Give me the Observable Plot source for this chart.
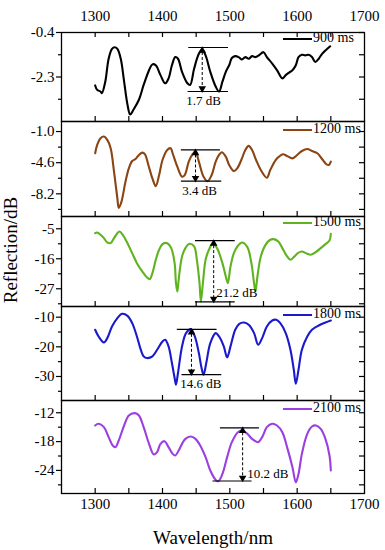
<!DOCTYPE html>
<html><head><meta charset="utf-8">
<script src="https://cdn.jsdelivr.net/npm/d3@7"></script>
<script src="https://cdn.jsdelivr.net/npm/@observablehq/plot@0.6"></script>
<style>
body{margin:0;background:#fff;}
#chart{position:relative;width:385px;height:550px;font-family:'Liberation Serif','Tinos','Times New Roman','DejaVu Serif',serif;color:#000;}
#chart svg{display:block;overflow:visible;}
.leg{position:absolute;font-size:14px;line-height:14px;white-space:nowrap;}
.legline{position:absolute;height:2px;}
.title{position:absolute;font-size:19px;line-height:19px;white-space:nowrap;}
</style></head><body><div id="chart"></div>
<script>
// ---------- data ----------
const seriesNames = ["900 ms","1200 ms","1500 ms","1800 ms","2100 ms"];
const seriesColors = ["#000000","#8b4513","#5fb31f","#1a1acc","#9b3fe0"];

const wl900 = [1300,1303,1308,1310,1315,1320,1325,1329,1333,1338,1343,1348,1352,1357,1365,1372,1380,1385,1390,1397,1404,1409,1414,1419,1423,1429,1437,1441,1447,1454,1459,1464,1471,1479,1484,1489,1494,1499,1503,1508,1513,1518,1523,1528,1533,1538,1543,1550,1555,1563,1570,1578,1583,1588,1593,1598,1602,1607,1612,1617,1622,1627,1632,1637,1642,1649];
const db900 = [-2.66,-2.85,-2.92,-2.99,-2.50,-1.52,-1.10,-1.03,-1.10,-1.52,-2.50,-3.48,-3.90,-3.69,-3.27,-2.64,-2.01,-1.76,-1.80,-2.22,-2.57,-2.36,-1.80,-1.45,-1.52,-2.08,-2.57,-2.64,-1.94,-1.31,-1.13,-1.38,-2.08,-2.71,-2.92,-2.50,-2.08,-1.80,-1.49,-1.41,-1.45,-1.55,-1.45,-1.52,-1.41,-1.45,-1.38,-1.24,-1.45,-1.73,-2.01,-2.36,-2.22,-2.11,-2.01,-1.80,-1.45,-1.35,-1.38,-1.35,-1.45,-1.66,-1.52,-1.31,-1.17,-0.99];

const wl1200 = [1300,1303,1308,1313,1318,1323,1328,1333,1335,1339,1345,1350,1355,1360,1365,1370,1374,1379,1385,1390,1395,1400,1407,1412,1415,1422,1429,1433,1439,1444,1449,1454,1461,1467,1473,1479,1484,1488,1494,1499,1506,1511,1518,1523,1528,1533,1539,1546,1555,1560,1568,1573,1579,1585,1593,1600,1607,1615,1622,1630,1637,1643,1647,1650];
const db1200 = [-3.51,-2.55,-1.77,-1.58,-1.97,-2.93,-5.64,-8.74,-9.82,-9.13,-6.80,-5.26,-4.41,-4.17,-3.71,-3.44,-3.63,-4.87,-6.42,-7.31,-6.03,-4.29,-3.13,-2.93,-3.51,-5.06,-6.22,-6.03,-4.48,-3.71,-3.32,-4.48,-6.22,-6.73,-6.03,-4.48,-3.71,-3.40,-3.90,-4.87,-5.57,-5.26,-4.10,-3.13,-2.66,-3.13,-4.29,-5.45,-6.34,-5.45,-4.29,-3.90,-3.63,-3.82,-4.10,-3.71,-3.25,-3.01,-3.25,-3.51,-4.17,-4.75,-4.87,-4.48];

const wl1500 = [1300,1303,1308,1313,1318,1323,1328,1333,1336,1341,1348,1355,1362,1370,1377,1381,1385,1390,1395,1400,1407,1413,1418,1420,1422,1424,1429,1434,1440,1447,1451,1455,1457,1460,1464,1469,1475,1481,1489,1494,1497,1501,1506,1512,1518,1526,1532,1536,1538,1541,1546,1553,1560,1565,1572,1578,1585,1590,1595,1601,1607,1613,1620,1627,1635,1642,1648,1650];
const db1500 = [-6.6,-6.36,-7.21,-8.43,-10.02,-10.27,-8.43,-6.6,-5.99,-7.21,-10.27,-13.93,-17.6,-20.65,-22.85,-23.46,-21.26,-16.38,-12.71,-10.63,-10.27,-12.1,-17.6,-24.93,-27.98,-23.71,-15.15,-12.1,-10.51,-11.49,-16.38,-24.93,-31.65,-24.93,-16.38,-12.71,-10.27,-12.1,-17.6,-22.49,-24.93,-18.82,-13.93,-11.24,-10.02,-11.73,-17.6,-24.93,-27.98,-22.49,-15.15,-10.88,-9.04,-8.8,-9.66,-12.1,-15.15,-16.38,-15.4,-13.93,-13.32,-13.93,-14.54,-13.69,-12.1,-10.63,-9.29,-6.84];

const wl1800 = [1300,1305,1313,1318,1325,1333,1340,1348,1355,1362,1367,1372,1377,1385,1392,1400,1404,1409,1414,1418,1420,1423,1429,1435,1442,1448,1454,1458,1461,1465,1471,1479,1484,1491,1496,1501,1508,1514,1521,1528,1536,1542,1548,1555,1563,1569,1575,1583,1590,1595,1598,1602,1607,1615,1622,1632,1642,1650];
const db1800 = [-14.25,-16.5,-18.52,-17.06,-13.13,-10.33,-8.87,-9.54,-12.01,-16.5,-20.43,-23.23,-23.79,-23.23,-20.99,-18.18,-17.62,-19.86,-25.47,-30.52,-32.77,-28.84,-19.86,-15.38,-14.03,-16.5,-22.11,-27.16,-29.4,-25.47,-18.74,-15.38,-16.5,-19.86,-23.57,-19.86,-14.25,-12.23,-11.79,-12.57,-15.38,-19.3,-17.06,-13.13,-11.11,-10.89,-12.01,-15.38,-20.99,-27.72,-32.43,-27.72,-20.99,-16.5,-14.25,-12.8,-11.79,-11.11];

const wl2100 = [1300,1305,1313,1320,1326,1330,1335,1343,1350,1359,1365,1372,1380,1387,1392,1397,1403,1409,1415,1419,1424,1429,1434,1442,1449,1456,1464,1471,1479,1483,1489,1496,1503,1512,1518,1526,1533,1542,1548,1555,1563,1570,1578,1585,1593,1598,1602,1607,1615,1622,1628,1635,1642,1648,1650];
const db2100 = [-14.65,-14.3,-15.0,-17.08,-18.81,-19.16,-17.77,-14.65,-12.56,-12.08,-12.56,-15.0,-18.47,-20.69,-20.2,-18.47,-17.91,-19.16,-20.55,-20.9,-19.86,-18.47,-17.43,-16.94,-17.43,-18.81,-21.24,-24.02,-25.97,-26.24,-24.72,-21.24,-18.12,-16.04,-15.69,-16.38,-17.43,-18.12,-17.08,-15.0,-14.3,-14.65,-16.04,-19.16,-23.33,-26.45,-24.72,-20.55,-16.38,-14.86,-14.65,-15.34,-17.43,-20.9,-24.02];

// axis ticks
const xDomain = [1250, 1700];
const xTickLabels = [1300, 1400, 1500, 1600, 1700];
const xTickMarks = [1300, 1350, 1400, 1450, 1500, 1550, 1600, 1650];
const yDomains = [[-4.2, -0.4], [-10.82, 0.16], [-33.5, -0.5], [-38.1, -6.4], [-28.8, -9.45]];
const yTickLabels = [[-0.4, -2.3], [-1.0, -4.6, -8.2], [-5, -16, -27], [-10, -20, -30], [-12, -18, -24]];
const yMinorTicks = [[-1.35, -3.25], [-2.8, -6.4, -10.0], [-10.5, -21.5, -32.5], [-15, -25, -35], [-15, -21, -27]];
const yDecimals = [1, 1, 0, 0, 0];

// annotations (dB difference markers)
const annText = ["1.7 dB", "3.4 dB", "21.2 dB", "14.6 dB", "10.2 dB"];
const annTopY = [-1.04, -3.13, -9.35, -14.1, -15.13];
const annTopX = [[1439, 1498], [1428, 1486], [1449, 1508], [1422, 1481], [1486, 1544]];
const annBotY = [-2.92, -6.73, -31.8, -29.35, -26.2];
const annBotX = [[1438, 1498], [1428, 1488], [1449, 1508], [1429, 1488], [1475, 1533]];
const annArrowX = [1459, 1449, 1476, 1443, 1519];
const annLabelX = [1461, 1455, 1480, 1457, 1526];
const annLabelY = [-3.3, -7.85, -28.5, -32.4, -24.7];

// ---------- layout ----------
const series = [[wl900, db900], [wl1200, db1200], [wl1500, db1500], [wl1800, db1800], [wl2100, db2100]];
const panelH = [89, 95, 90, 94, 93];
const mL = 61, mR = 21, W = 385, plotW = W - mL - mR;
const labelAnchor = ["middle", "middle", "start", "middle", "start"];
const FONT = "'Liberation Serif','Tinos','Times New Roman','DejaVu Serif',serif";

const chart = document.getElementById("chart");

function makePanel(i) {
  const first = i === 0, last = i === 4;
  const h = panelH[i];
  const mt = first ? 32 : 0, mb = last ? 57 : 0;
  const [wl, db] = series[i];
  const data = wl.map((w, j) => ({w, v: db[j]}));
  const fmt = d => d.toFixed(yDecimals[i]);
  const inDom = v => v >= yDomains[i][0] && v <= yDomains[i][1];
  const marks = [
    Plot.frame({stroke: "#000", strokeWidth: 1.3}),
    Plot.tickX(xTickMarks, {x: d => d, insetTop: h - 5, stroke: "#000", strokeWidth: 1.2}),
    Plot.tickY(yTickLabels[i].concat(yMinorTicks[i]).filter(inDom),
      {y: d => d, insetLeft: plotW - 5, stroke: "#000", strokeWidth: 1.2}),
    Plot.tickY(yMinorTicks[i].filter(inDom),
      {y: d => d, insetLeft: -3, insetRight: plotW, stroke: "#000", strokeWidth: 1.2}),
    Plot.axisY(yTickLabels[i], {anchor: "left", tickSize: 5, tickPadding: 2, tickFormat: fmt, label: null, strokeWidth: 1.2, fontFamily: FONT}),
    Plot.line(data, {x: "w", y: "v", stroke: seriesColors[i], strokeWidth: 2.1, curve: "catmull-rom"}),
    Plot.ruleY([0], {x1: annTopX[i][0], x2: annTopX[i][1], y: () => annTopY[i], stroke: "#000", strokeWidth: 1.2}),
    Plot.ruleY([0], {x1: annBotX[i][0], x2: annBotX[i][1], y: () => annBotY[i], stroke: "#000", strokeWidth: 1.2}),
    Plot.ruleX([0], {x: () => annArrowX[i], y1: () => annTopY[i], y2: () => annBotY[i], stroke: "#000", strokeWidth: 1, strokeDasharray: "3,2"}),
    Plot.dot([0], {x: () => annArrowX[i], y: () => annTopY[i], symbol: "triangle", r: 2.8, fill: "#000", stroke: null, dy: 3}),
    Plot.dot([0], {x: () => annArrowX[i], y: () => annBotY[i], symbol: "triangle", r: 2.8, fill: "#000", stroke: null, dy: -3, rotate: 180}),
    Plot.text([annText[i]], {x: () => annLabelX[i], y: () => annLabelY[i], text: d => d, textAnchor: labelAnchor[i], fontSize: 13, fill: "#000", fontFamily: FONT})
  ];
  if (first) {
    marks.push(Plot.tickX(xTickMarks, {x: d => d, insetBottom: h - 5, stroke: "#000", strokeWidth: 1.2}));
    marks.push(Plot.axisX(xTickLabels, {anchor: "top", tickSize: 0, tickPadding: 12, tickFormat: d => String(d), label: null, fontFamily: FONT}));
  }
  if (last) {
    marks.push(Plot.axisX(xTickLabels, {anchor: "bottom", tickSize: 0, tickPadding: 5, tickFormat: d => String(d), label: null, fontFamily: FONT}));
  }
  const svg = Plot.plot({
    width: W,
    height: h + mt + mb,
    marginLeft: mL, marginRight: mR, marginTop: mt, marginBottom: mb,
    x: {domain: xDomain, axis: (first || last) ? undefined : null},
    y: {domain: yDomains[i]},
    style: {fontFamily: FONT, fontSize: "15px", background: "transparent", overflow: "visible", color: "#000"},
    marks
  });
  chart.appendChild(svg);

  const legY = [39, 130, 223, 315, 409][i];
  const ln = document.createElement("div");
  ln.className = "legline";
  ln.style.cssText = `left:283px;top:${legY - 1}px;width:29px;background:${seriesColors[i]};`;
  chart.appendChild(ln);
  const tx = document.createElement("div");
  tx.className = "leg";
  tx.style.cssText = `left:313px;top:${legY - 8}px;`;
  tx.textContent = seriesNames[i];
  chart.appendChild(tx);
}

for (let i = 0; i < 5; i++) makePanel(i);

const yt = document.createElement("div");
yt.className = "title";
yt.style.cssText = "left:10px;top:250px;transform:translate(-50%,-50%) rotate(-90deg);";
yt.textContent = "Reflection/dB";
chart.appendChild(yt);

const xt = document.createElement("div");
xt.className = "title";
xt.style.cssText = "left:213px;top:537px;transform:translate(-50%,-50%);";
xt.textContent = "Wavelength/nm";
chart.appendChild(xt);
</script></body></html>
